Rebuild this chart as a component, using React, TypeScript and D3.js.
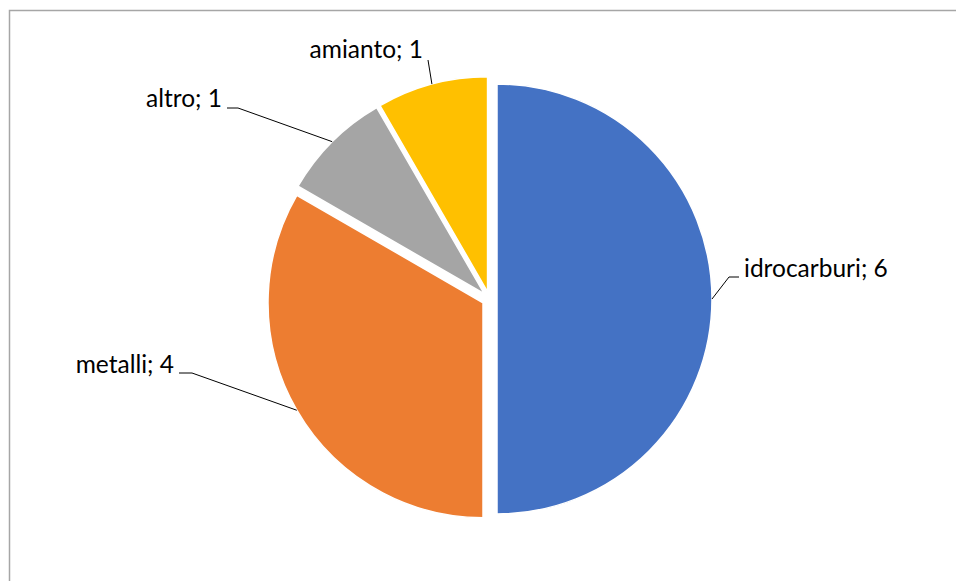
import React from "react";
import * as d3 from "d3";

const categories = ["idrocarburi", "metalli", "altro", "amianto"];
const values = [6, 4, 1, 1];
const colors = ["#4472C4", "#ED7D31", "#A5A5A5", "#FFC000"];

// label layout (text anchor, baseline) and leader elbow
const labelLayout = [
  { tx: 744, ty: 277, ex: 739, ey: 277, hx: 729, anchor: "start" },
  { tx: 174, ty: 373, ex: 179, ey: 373, hx: 192, anchor: "end" },
  { tx: 222, ty: 107, ex: 227, ey: 108, hx: 238, anchor: "end" },
  { tx: 423, ty: 58, ex: 428, ey: 60, hx: 428, anchor: "end" },
];

const W = 956;
const H = 581;
const cx = 489.5;
const cy = 299;
const R = 215;
const explode = 7.5;

export default function App() {
  const pie = d3.pie<number>().sort(null).value((d) => d);
  const arcs = pie(values);
  const arcGen = d3.arc<d3.PieArcDatum<number>>().innerRadius(0).outerRadius(R);

  return (
    <div style={{ position: "fixed", left: 0, top: 0 }}>
      <svg width={W} height={H} style={{ display: "block", background: "#fff" }}>
        <rect x={9.5} y={10.5} width={W + 20} height={H + 20} fill="#fff" stroke="#a6a6a6" strokeWidth={1.5} />
        {arcs.map((a, i) => {
          const mid = (a.startAngle + a.endAngle) / 2;
          const ox = cx + explode * Math.sin(mid);
          const oy = cy - explode * Math.cos(mid);
          const px = ox + R * Math.sin(mid);
          const py = oy - R * Math.cos(mid);
          const L = labelLayout[i];
          return (
            <g key={categories[i]}>
              <path d={arcGen(a) || ""} transform={`translate(${ox},${oy})`} fill={colors[i]} stroke="#fff" strokeWidth={1.5} />
              <polyline
                points={`${L.ex},${L.ey} ${L.hx},${L.ey} ${px},${py}`}
                fill="none"
                stroke="#000"
                strokeWidth={1}
              />
              <text
                x={L.tx}
                y={L.ty}
                textAnchor={L.anchor as any}
                fontFamily="Lato, 'Open Sans', sans-serif"
                fontSize={24.5}
                fill="#000"
              >
                {`${categories[i]}; ${values[i]}`}
              </text>
            </g>
          );
        })}
      </svg>
    </div>
  );
}
